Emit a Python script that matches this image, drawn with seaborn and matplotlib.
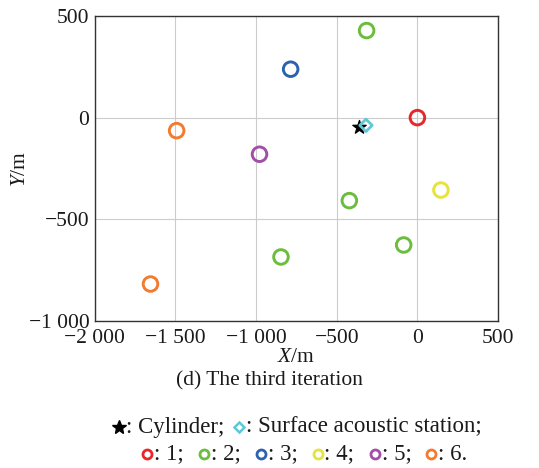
import numpy as np
import pandas as pd
import matplotlib
matplotlib.use("Agg")
import matplotlib.pyplot as plt
import seaborn as sns
from matplotlib.lines import Line2D

# Data
station_ids = ["1", "2", "2", "2", "2", "3", "4", "5", "6", "6"]
station_x = [0, -315, -422, -85, -846, -786, 146, -979, -1493, -1655]
station_y = [0, 428, -408, -626, -685, 238, -356, -180, -64, -818]
cylinder_x = [-360]
cylinder_y = [-47]
surface_x = [-319]
surface_y = [-38]
x_ticks = [-2000, -1500, -1000, -500, 0, 500]
y_ticks = [-1000, -500, 0, 500]
x_tick_labels = ["\u22122 000", "\u22121 500", "\u22121 000", "\u2212500", "0", "500"]
y_tick_labels = ["\u22121 000", "\u2212500", "0", "500"]

palette = {"1": "#e8262b", "2": "#6bbd3c", "3": "#2c62ae", "4": "#e6e33a",
           "5": "#a24fa6", "6": "#f27b2f"}
cyan = "#5ec8d6"

sns.set_theme(style="whitegrid")
plt.rcParams["font.family"] = ["Liberation Serif", "DejaVu Sans"]
plt.rcParams["mathtext.fontset"] = "custom"
plt.rcParams["mathtext.it"] = "Liberation Serif:italic"
plt.rcParams["mathtext.rm"] = "Liberation Serif"

fig = plt.figure(figsize=(5.39, 4.68), dpi=100)
ax = fig.add_axes([0.176, 0.314, 0.748, 0.652])

df = pd.DataFrame({"x": station_x, "y": station_y, "id": station_ids})
sns.scatterplot(data=df, x="x", y="y", hue="id", palette=palette, ax=ax,
                s=110, marker="o", facecolor="none", linewidth=2.1,
                legend=False, zorder=3)
coll = ax.collections[-1]
fc = coll.get_facecolors()
coll.set_edgecolors(fc)
coll.set_facecolors("none")

ax.scatter(cylinder_x, cylinder_y, marker="*", s=100, color="black", zorder=4)
ax.scatter(surface_x, surface_y, marker="D", s=40, facecolors="none",
           edgecolors=cyan, linewidths=2, zorder=4)

ax.set_xlim(-2000, 500)
ax.set_ylim(-1000, 500)
ax.set_xticks(x_ticks)
ax.set_xticklabels(x_tick_labels)
ax.set_yticks(y_ticks)
ax.set_yticklabels(y_tick_labels)
ax.tick_params(labelsize=15.5, length=0, colors="#1a1a1a")
ax.tick_params(axis="x", pad=6)
ax.tick_params(axis="y", pad=4)
ax.grid(True, color="#cccccc", linewidth=0.8)
ax.set_facecolor("white")
for s in ax.spines.values():
    s.set_color("#333333")
    s.set_linewidth(1.0)
ax.set_xlabel(r"$X$/m", fontsize=15.5, labelpad=0, color="#1a1a1a")
ax.set_ylabel(r"$Y$/m", fontsize=15.5, color="#1a1a1a")
ax.yaxis.set_label_coords(-0.161, 0.5)

fig.text(0.5, 1 - 381 / 468, "(d) The third iteration", ha="center", va="center",
         fontsize=15.5, color="#1a1a1a")

renderer = fig.canvas.get_renderer()
W = fig.bbox.width
FS = 16.5


def legend_line(items, ypix, start_px, gap):
    mw = 14.0
    yf = 1 - ypix / 468
    x = start_px
    for mk, txt in items:
        fig.add_artist(Line2D([(x + mw / 2) / W], [yf], transform=fig.transFigure,
                              linestyle="none", **mk))
        x += mw
        t = fig.text(x / W, yf, txt, ha="left", va="center", fontsize=FS, color="#1a1a1a")
        x += t.get_window_extent(renderer).width + gap


line1 = [
    (dict(marker="*", markersize=10, color="black"), ": Cylinder;"),
    (dict(marker="D", markersize=5.5, markerfacecolor="none", markeredgecolor=cyan,
          markeredgewidth=1.8), ": Surface acoustic station;"),
]
legend_line(line1, 427, 112, 8)

line2 = []
labels = [": 1;", ": 2;", ": 3;", ": 4;", ": 5;", ": 6."]
for sid, lab in zip(["1", "2", "3", "4", "5", "6"], labels):
    line2.append((dict(marker="o", markersize=6.5, markerfacecolor="none",
                       markeredgecolor=palette[sid], markeredgewidth=2), lab))
legend_line(line2, 454, 140, 13)

fig.savefig("out.png", dpi=100, facecolor="white")
